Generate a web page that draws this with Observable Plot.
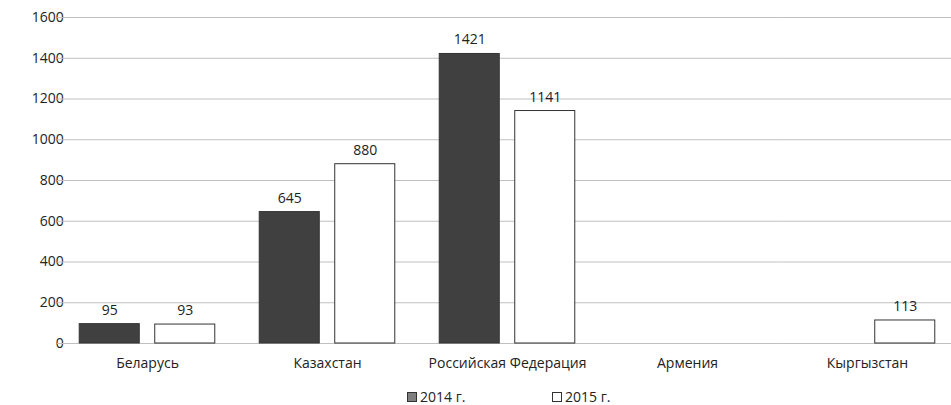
<!DOCTYPE html>
<html>
<head>
<meta charset="utf-8">
<script src="https://cdn.jsdelivr.net/npm/d3@7"></script>
<script src="https://cdn.jsdelivr.net/npm/@observablehq/plot@0.6"></script>
<style>
  html, body { margin: 0; padding: 0; background: #fff; }
  body { width: 951px; height: 405px; overflow: hidden; font-family: "Open Sans", sans-serif; }
  #chart { width: 951px; overflow: hidden; height: 380px; }
  #chart svg { display: block; max-width: none !important; }
  #legend { position: relative; height: 25px; font-size: 14px; color: #222; }
  .item { position: absolute; top: 9px; display: flex; align-items: center; line-height: 16px; height: 16px; }
  .sw { width: 10px; height: 10px; margin-right: 3px; box-sizing: border-box; border: 1px solid #333; }
</style>
</head>
<body>
<div id="chart"></div>
<div id="legend"></div>
<script>
const countries = ["Беларусь", "Казахстан", "Российская Федерация", "Армения", "Кыргызстан"];
const years = ["2014 г.", "2015 г."];
const values2014 = [95, 645, 1421, null, null];
const values2015 = [93, 880, 1141, null, 113];
const yTicks = [0, 200, 400, 600, 800, 1000, 1200, 1400, 1600];
const colors = ["#404040", "#ffffff"];
const swatchColors = ["#7f7f7f", "#ffffff"];

const data = [];
countries.forEach((c, i) => {
  if (values2014[i] != null) data.push({country: c, year: years[0], value: values2014[i]});
  if (values2015[i] != null) data.push({country: c, year: years[1], value: values2015[i]});
});
const gridData = countries.flatMap(c => yTicks.map(v => ({country: c, v})));

const font = "Open Sans, sans-serif";
const W = 957, ML = 57, MR = 0;
const step = (W - ML - MR) / countries.length;
const padOuter = 0.1235;
const gapHalf = step * padOuter;
const chart = Plot.plot({
  width: W,
  height: 380,
  marginTop: 17,
  marginBottom: 37,
  marginLeft: ML,
  marginRight: MR,
  style: {fontFamily: font, fontSize: "14px", color: "#222", background: "#fff"},
  fx: {domain: countries, round: false, paddingInner: padOuter * 2, paddingOuter: padOuter, label: null, axis: "bottom", tickSize: 0, tickPadding: 15},
  x: {domain: years, round: false, paddingInner: 0.205, paddingOuter: 0, axis: null},
  y: {domain: [0, 1600], ticks: yTicks, tickFormat: d => String(d), label: null, tickSize: 0, tickPadding: 16},
  color: {domain: years, range: colors},
  marks: [
    Plot.ruleY(gridData, {fx: "country", y: "v", stroke: "#c0c0c0", strokeWidth: 1, insetLeft: -gapHalf, insetRight: -gapHalf}),
    Plot.barY(data, {fx: "country", x: "year", y: "value", fill: "year", stroke: "#333", strokeWidth: 1}),
    Plot.text(data, {fx: "country", x: "year", y: "value", text: d => String(d.value), dy: -14, fill: "#222", fontSize: 14})
  ]
});
document.getElementById("chart").appendChild(chart);

const legend = document.getElementById("legend");
const lefts = [407, 552];
years.forEach((y, i) => {
  const it = document.createElement("div");
  it.className = "item";
  it.style.left = lefts[i] + "px";
  const sw = document.createElement("span");
  sw.className = "sw";
  sw.style.background = swatchColors[i];
  const t = document.createElement("span");
  t.textContent = y;
  it.appendChild(sw); it.appendChild(t);
  legend.appendChild(it);
});
</script>
</body>
</html>
